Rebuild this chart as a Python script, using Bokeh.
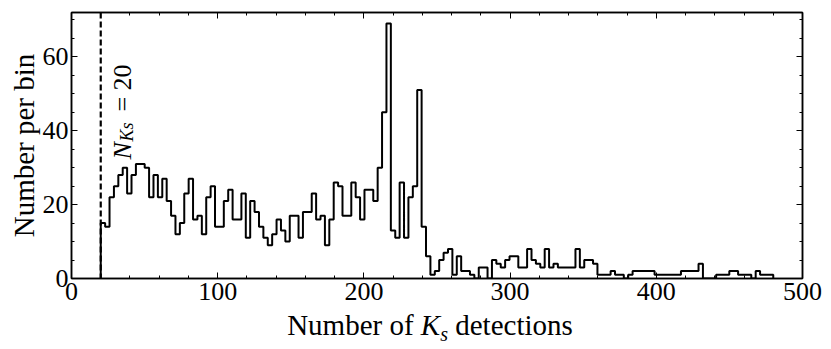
import numpy as np
from bokeh.plotting import figure
from bokeh.models import Range1d, LinearAxis, FixedTicker, Span, Label, Div
from bokeh.layouts import column
from bokeh.embed import file_html
from bokeh.resources import INLINE

# ---- data -------------------------------------------------------------
bin_start = 20
bin_end = 480
counts = [
    15, 14, 22, 25, 28, 30, 23, 28, 31, 31, 30, 22, 28, 22, 27, 21,
    17, 12, 15, 23, 27, 16, 17, 12, 22, 25, 14, 14, 21, 24, 16, 16, 23, 11, 21,
    18, 14, 11, 9, 12, 16, 13, 10, 17, 17, 11, 18, 18, 23, 16, 17, 9, 16, 26, 25, 17, 17,
    26, 22, 16, 24, 24, 21, 30, 45, 69, 13, 11, 26, 11, 22, 25, 51, 14, 6, 1, 2, 5, 7,
    8, 1, 6, 2, 2, 1, 0, 3, 3, 0, 5, 4, 3, 5, 6, 6, 3, 3, 8, 5, 4, 3, 8, 3,
    4, 3, 3, 3, 3, 8, 3, 5, 5, 4, 1, 1, 1, 2, 1, 1, 0, 1, 2, 2,
    2, 2, 2, 1, 1, 1, 1, 1, 1, 2, 2, 2, 2, 4, 0, 0, 0, 1, 1, 1, 2, 2, 1, 1, 1, 0, 2, 1, 1, 1,
]
threshold = 20
x_major = [0, 100, 200, 300, 400, 500]
x_minor = [v for v in range(0, 501, 20) if v % 100]
y_major = [0, 20, 40, 60]
y_minor = [v for v in range(0, 73, 5) if v % 20]
x_limits = (0, 500)
y_limits = (0, 72)
y_title = "Number per bin"

# ---- histogram outline -------------------------------------------------
edges = np.linspace(bin_start, bin_end, len(counts) + 1)
xs = np.repeat(edges, 2)
ys = np.concatenate([[0], np.repeat(counts, 2), [0]])

FONT = "Liberation Serif"

p = figure(width=831, height=313, x_range=Range1d(*x_limits), y_range=Range1d(*y_limits),
           output_backend="svg", toolbar_location=None,
           min_border_left=71, min_border_right=29, min_border_top=12, min_border_bottom=35)
p.xgrid.visible = False
p.ygrid.visible = False
p.outline_line_color = "black"
p.outline_line_width = 1.5
p.background_fill_color = "white"
p.border_fill_color = "white"


def style_axis(ax, major, minor, labels=True):
    ax.ticker = FixedTicker(ticks=major, minor_ticks=minor)
    ax.major_tick_in = 6
    ax.major_tick_out = 0
    ax.minor_tick_in = 3
    ax.minor_tick_out = 0
    ax.major_tick_line_color = "black"
    ax.minor_tick_line_color = "black"
    ax.major_tick_line_width = 1
    ax.minor_tick_line_width = 1
    ax.axis_line_color = "black"
    ax.axis_line_width = 1.5
    ax.major_label_text_font = FONT
    if labels:
        ax.major_label_text_color = "black"
        ax.major_label_text_font_size = "26px"
        ax.major_label_standoff = 4
    else:
        ax.major_label_text_color = None
        ax.major_label_text_font_size = "0px"
        ax.major_label_standoff = 0


style_axis(p.xaxis[0], x_major, x_minor)
style_axis(p.yaxis[0], y_major, y_minor)
p.yaxis[0].major_label_standoff = 3
p.yaxis[0].axis_label = y_title
p.yaxis[0].axis_label_text_font = FONT
p.yaxis[0].axis_label_text_font_size = "29px"
p.yaxis[0].axis_label_text_font_style = "normal"
p.yaxis[0].axis_label_text_color = "black"
p.yaxis[0].axis_label_standoff = 0

top = LinearAxis()
style_axis(top, x_major, x_minor, labels=False)
p.add_layout(top, "above")
right = LinearAxis()
style_axis(right, y_major, y_minor, labels=False)
p.add_layout(right, "right")

# histogram outline
p.line(xs, ys, line_color="black", line_width=2)

# threshold line
p.add_layout(Span(location=threshold, dimension="height", line_color="black",
                  line_width=2.2, line_dash="6 3"))

# rotated annotation  N_{Ks} = 20
ann_y = 32.2
p.add_layout(Label(x=threshold, y=ann_y, x_offset=21.5, y_offset=0, text="N", angle=np.pi / 2,
                   text_font=FONT, text_font_style="italic", text_font_size="26px",
                   text_baseline="alphabetic", text_align="left", text_color="black"))
p.add_layout(Label(x=threshold, y=ann_y, x_offset=26.5, y_offset=18, text="Ks", angle=np.pi / 2,
                   text_font=FONT, text_font_style="italic", text_font_size="18px",
                   text_baseline="alphabetic", text_align="left", text_color="black"))
p.add_layout(Label(x=threshold, y=ann_y, x_offset=21.5, y_offset=48, text="= " + str(threshold),
                   angle=np.pi / 2, text_font=FONT, text_font_size="26px",
                   text_baseline="alphabetic", text_align="left", text_color="black"))

# x axis title with italic K and subscript s (HTML text), centred under the frame
x_title_html = (
    '<div style="width:700px; margin-left:75px; text-align:center; position:relative; '
    'top:-7px; white-space:nowrap;">Number of <i>K</i><i style="font-size:20px; '
    'position:relative; top:6px;">s</i> detections</div>'
)
xdiv = Div(text=x_title_html, width=831, height=36,
           styles={"font-family": "'Liberation Serif', serif", "font-size": "29px",
                   "color": "black", "line-height": "29px", "overflow": "visible"})

layout = column(p, xdiv, spacing=0)
open("out.html", "w").write(file_html(layout, INLINE))
